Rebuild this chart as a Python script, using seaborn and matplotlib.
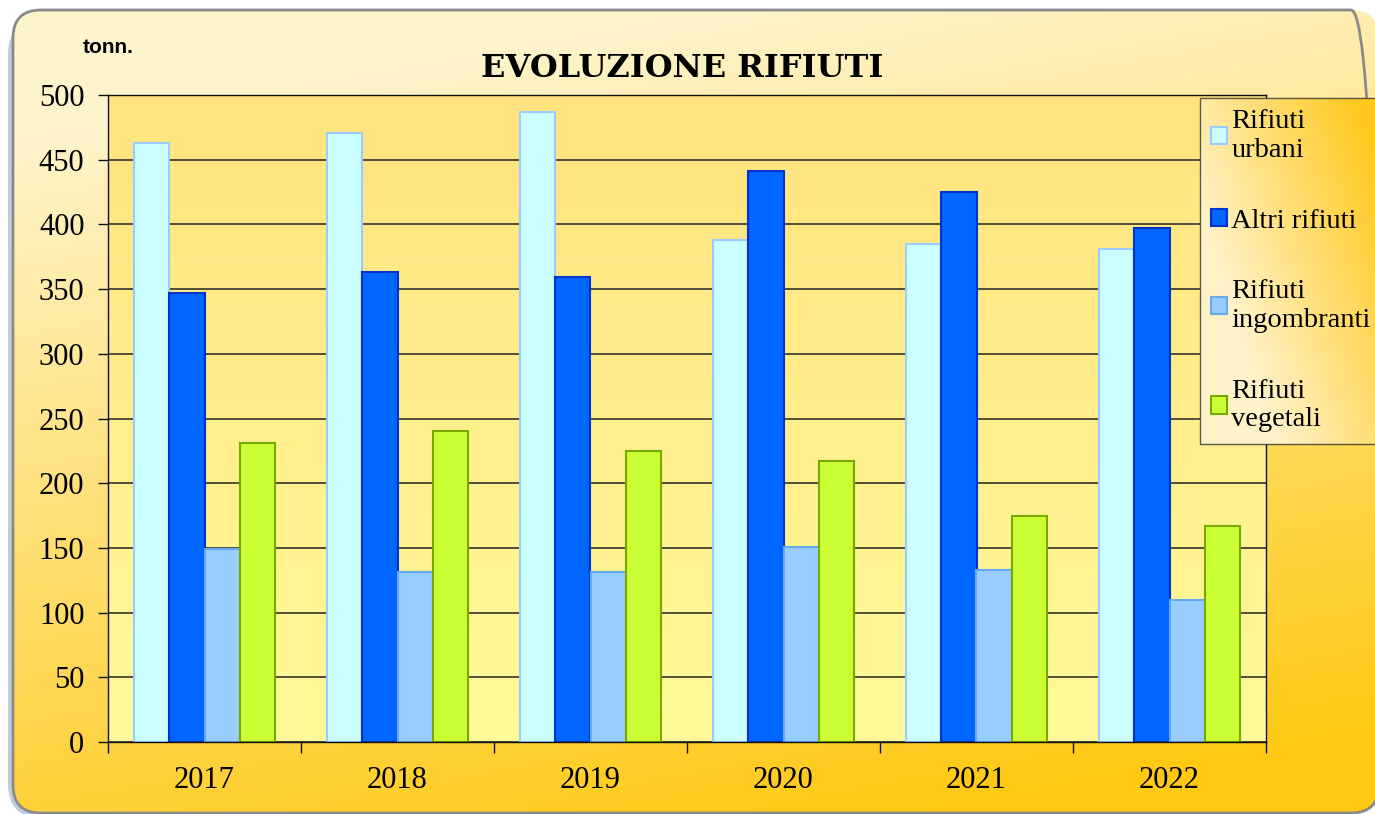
import numpy as np
import pandas as pd
import matplotlib
matplotlib.use('Agg')
import matplotlib.pyplot as plt
import seaborn as sns
from matplotlib.patches import FancyBboxPatch, Patch
from matplotlib.colors import to_rgb

# Data (tonnellate)
anni = ['2017', '2018', '2019', '2020', '2021', '2022']
urbani = [463, 471, 487, 388, 385, 381]
altri = [347, 363, 359, 441, 425, 397]
ingombranti = [149, 131, 131, 151, 133, 110]
vegetali = [231, 240, 225, 217, 175, 167]

serie = ['Rifiuti\nurbani', 'Altri rifiuti', 'Rifiuti\ningombranti', 'Rifiuti\nvegetali']
face = ['#CCFFFF', '#0066FF', '#99CCFF', '#CCFF33']
edge = ['#99CCFF', '#0033CC', '#66AAEE', '#77AA00']

df = pd.DataFrame({'anno': anni, serie[0]: urbani, serie[1]: altri,
                   serie[2]: ingombranti, serie[3]: vegetali})
df = df.melt(id_vars='anno', var_name='tipo', value_name='tonn')

sns.set_theme(style='white')
plt.rcParams['font.family'] = ['Liberation Serif', 'DejaVu Serif']
plt.rcParams['text.color'] = 'black'
plt.rcParams['xtick.color'] = 'black'
plt.rcParams['ytick.color'] = 'black'

W, H = 1375, 814
fig = plt.figure(figsize=(W / 100, H / 100), dpi=100)
fig.patch.set_facecolor('white')


def blend(c1, c2, t):
    c1 = np.array(to_rgb(c1))
    c2 = np.array(to_rgb(c2))
    t = np.clip(t, 0, 1)[..., None]
    return c1 * (1 - t) + c2 * t


# outer rounded panel with gradient (coordinates in pixels)
bg = fig.add_axes([0, 0, 1, 1], zorder=-2)
bg.axis('off')
bg.set_xlim(0, W)
bg.set_ylim(0, H)
bg.set_autoscale_on(False)
yy, xx = np.mgrid[0:1:200j, 0:1:300j]
img = blend('#FEF4CC', '#FFC914', 0.95 * yy + 0.3 * xx - 0.15)
# soft shadow on the left side only
shadow = FancyBboxPatch((8, -4), 900, 798, boxstyle='round,pad=0,rounding_size=34',
                        facecolor='#8fa6b6', edgecolor='none', alpha=0.55, zorder=0)
bg.add_patch(shadow)
box = FancyBboxPatch((13, 1), 1366, 803, boxstyle='round,pad=0,rounding_size=28',
                     facecolor='none', edgecolor='#8a8a8a', linewidth=2, zorder=3)
bg.add_patch(box)
im = bg.imshow(img, extent=[13, 1379, 1, 804], aspect='auto', zorder=1)
im.set_clip_path(box)
bg.set_xlim(0, W)
bg.set_ylim(0, H)

# plot area
ax = fig.add_axes([108 / W, 1 - 742 / H, (1266 - 108) / W, (742 - 95) / H])
plot_grad = blend('#FFE37E', '#FFFA9A', np.linspace(0, 1, 256)[:, None] * np.ones((1, 2)))
ax.imshow(plot_grad, extent=[-0.5, 5.5, 0, 500], aspect='auto', zorder=0)

sns.barplot(data=df, x='anno', y='tonn', hue='tipo', hue_order=serie,
            palette=face, saturation=1, width=0.73, linewidth=1.5,
            legend=False, ax=ax, zorder=2)
for cont, ec in zip(ax.containers, edge):
    for p in cont:
        p.set_edgecolor(ec)

ax.set_xlim(-0.5, 5.5)
ax.set_ylim(0, 500)
ax.set_yticks(range(0, 501, 50))
ax.yaxis.grid(True, color='#222222', linewidth=1.1)
ax.set_axisbelow(True)
ax.set_xlabel('')
ax.set_ylabel('')
for s in ax.spines.values():
    s.set_color('#111111')
    s.set_linewidth(1.0)
ax.tick_params(axis='y', direction='out', length=7, width=1, color='#111111',
               labelsize=22, pad=10, left=True)
ax.tick_params(axis='x', which='major', length=0, labelsize=22, pad=17)
ax.set_xticks(np.arange(-0.5, 6, 1), minor=True)
ax.tick_params(axis='x', which='minor', direction='out', length=8, width=1,
               color='#111111', bottom=True)

# titles
fig.text(0.496, 0.916, 'EVOLUZIONE RIFIUTI', ha='center', va='center',
         fontsize=23, fontweight='bold', family=['DejaVu Serif'])
fig.text(0.079, 0.942, 'tonn.', ha='center', va='center', fontsize=15,
         fontweight='bold', family=['Liberation Sans'])

# legend
handles = [Patch(facecolor=f, edgecolor=e, linewidth=1.5) for f, e in zip(face, edge)]
leg = fig.legend(handles, serie, loc='upper left',
                 bbox_to_anchor=(1200 / W, 1 - 98 / H), frameon=True,
                 fancybox=False, edgecolor='#333333', facecolor='none',
                 fontsize=20.5, handlelength=0.55, handleheight=0.55,
                 handletextpad=0.15, labelspacing=1.6, borderpad=0.4,
                 borderaxespad=0, alignment='left')
leg.get_frame().set_linewidth(1.0)
fig.canvas.draw()
bb = leg.get_window_extent().transformed(fig.transFigure.inverted())
lax = fig.add_axes([bb.x0, bb.y0, bb.width, bb.height], zorder=1)
lax.axis('off')
ly, lx = np.mgrid[0:1:100j, 0:1:100j]
lax.imshow(blend('#FFF2C8', '#FFC81A', 0.9 * lx - 0.6 * ly + 0.2), aspect='auto',
           extent=[0, 1, 0, 1])
lax.set_xlim(0, 1)
lax.set_ylim(0, 1)
leg.set_zorder(10)

fig.savefig('out.png', dpi=100)
